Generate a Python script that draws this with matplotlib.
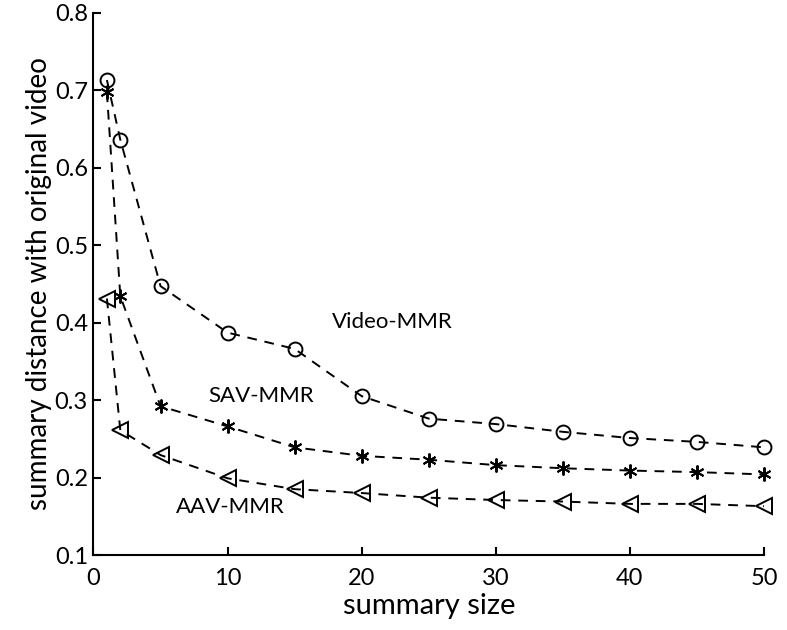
import matplotlib
matplotlib.use("Agg")
import matplotlib.pyplot as plt

# summary size (x) and distance values
sizes = [1, 2, 5, 10, 15, 20, 25, 30, 35, 40, 45, 50]
video_mmr = [0.713, 0.636, 0.447, 0.387, 0.366, 0.305, 0.276, 0.269, 0.259, 0.251, 0.246, 0.239]
sav_mmr = [0.697, 0.434, 0.292, 0.266, 0.239, 0.228, 0.223, 0.216, 0.212, 0.209, 0.207, 0.204]
aav_mmr = [0.431, 0.261, 0.229, 0.199, 0.185, 0.180, 0.174, 0.171, 0.169, 0.166, 0.166, 0.163]

plt.rcParams['font.family'] = ['Lato', 'DejaVu Sans']

fig = plt.figure(figsize=(7.87, 6.3), dpi=100)
ax = fig.add_axes([0.1188, 0.119, 0.852, 0.861])

style = dict(color='black', linestyle=(0, (5, 4)), linewidth=1.4, clip_on=False,
             markerfacecolor='none', markeredgecolor='black', markeredgewidth=1.4)
ax.plot(sizes, video_mmr, marker='o', markersize=10, **style)
ax.plot(sizes, sav_mmr, marker=(6, 2, 0), markersize=10, **style)
ax.plot(sizes, aav_mmr, marker='<', markersize=11, **style)

ax.text(22.3, 0.401, 'Video-MMR', fontsize=16, ha='center', va='center')
ax.text(12.5, 0.305, 'SAV-MMR', fontsize=16, ha='center', va='center')
ax.text(10.2, 0.162, 'AAV-MMR', fontsize=16, ha='center', va='center')

ax.set_xlim(0, 50)
ax.set_ylim(0.1, 0.8)
ax.set_xticks([0, 10, 20, 30, 40, 50])
ax.set_yticks([0.1, 0.2, 0.3, 0.4, 0.5, 0.6, 0.7, 0.8])

ax.spines['top'].set_visible(False)
ax.spines['right'].set_visible(False)
for s in ['left', 'bottom']:
    ax.spines[s].set_linewidth(1.5)
ax.tick_params(direction='in', length=6, width=1.5, labelsize=17)
ax.tick_params(axis='x', pad=9)
ax.tick_params(axis='y', pad=4)

ax.set_xlabel('summary size', fontsize=21, labelpad=3)
ax.set_ylabel('summary distance with original video', fontsize=20, labelpad=2)

fig.savefig('out.png', dpi=100)
